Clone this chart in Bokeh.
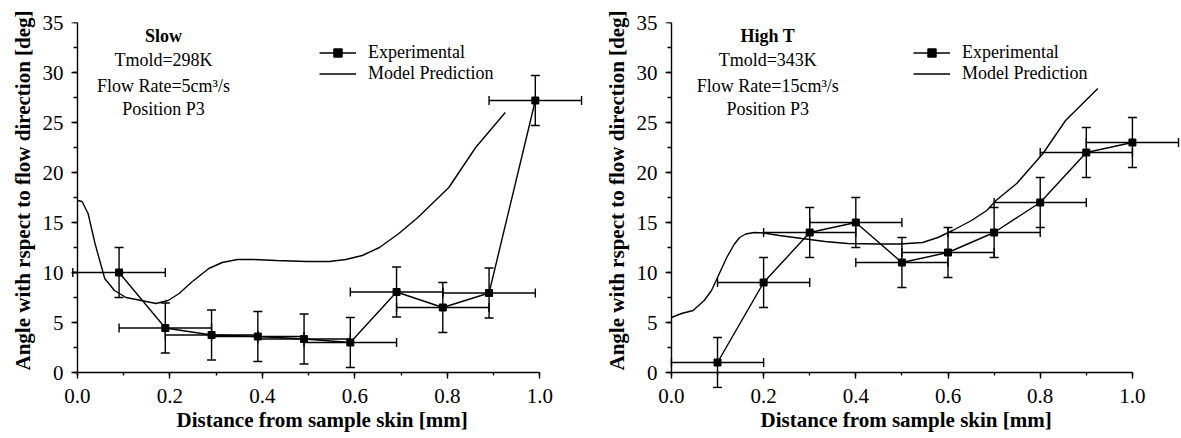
from bokeh.plotting import figure
from bokeh.models import (ColumnDataSource, Whisker, TeeHead, Label, Legend, LegendItem,
                          Range1d, SingleIntervalTicker, NumeralTickFormatter, LinearAxis, Title)
from bokeh.layouts import row
from bokeh.embed import file_html
from bokeh.resources import INLINE

FONT = "Liberation Serif"

# ---------------- data: left panel ("Slow") ----------------
slow_x = [0.09, 0.19, 0.29, 0.39, 0.49, 0.59, 0.69, 0.79, 0.89, 0.99]
slow_y = [10.0, 4.45, 3.75, 3.6, 3.35, 3.0, 8.05, 6.5, 7.95, 27.2]
slow_xerr = [0.1, 0.1, 0.1, 0.1, 0.1, 0.1, 0.1, 0.1, 0.1, 0.1]
slow_yerr = [2.5, 2.5, 2.5, 2.5, 2.5, 2.5, 2.5, 2.5, 2.5, 2.5]
slow_model_x = [0.0, 0.01, 0.023, 0.038, 0.059, 0.08, 0.105, 0.138, 0.17, 0.196, 0.22,
                0.246, 0.284, 0.313, 0.346, 0.38, 0.43, 0.495, 0.545, 0.58, 0.616, 0.653,
                0.695, 0.736, 0.774, 0.803, 0.861, 0.925]
slow_model_y = [17.2, 17.1, 15.9, 12.9, 9.4, 8.2, 7.5, 7.2, 6.9, 7.2, 7.9,
                9.0, 10.4, 11.0, 11.3, 11.3, 11.2, 11.1, 11.1, 11.3, 11.7, 12.5,
                13.9, 15.5, 17.2, 18.5, 22.5, 26.0]
slow_notes = ["Slow", "Tmold=298K", "Flow Rate=5cm³/s", "Position P3"]

# ---------------- data: right panel ("High T") ----------------
hot_x = [0.1, 0.2, 0.3, 0.4, 0.5, 0.6, 0.7, 0.8, 0.9, 1.0]
hot_y = [1.0, 9.0, 14.0, 15.0, 11.0, 12.0, 14.0, 17.0, 22.0, 23.0]
hot_xerr = [0.1, 0.1, 0.1, 0.1, 0.1, 0.1, 0.1, 0.1, 0.1, 0.1]
hot_yerr = [2.5, 2.5, 2.5, 2.5, 2.5, 2.5, 2.5, 2.5, 2.5, 2.5]
hot_model_x = [0.0, 0.022, 0.047, 0.071, 0.087, 0.104, 0.12, 0.136, 0.148, 0.161, 0.18,
               0.2, 0.234, 0.283, 0.333, 0.382, 0.447, 0.496, 0.545, 0.578, 0.61, 0.651,
               0.684, 0.704, 0.749, 0.806, 0.855, 0.925]
hot_model_y = [5.5, 5.9, 6.2, 7.2, 8.2, 9.9, 11.5, 12.8, 13.5, 13.85, 14.0,
               13.95, 13.7, 13.4, 13.1, 12.9, 12.85, 12.85, 13.0, 13.5, 14.2, 15.2,
               16.2, 17.2, 18.9, 21.9, 25.2, 28.4]
hot_notes = ["High T", "Tmold=343K", "Flow Rate=15cm³/s", "Position P3"]

x_label = "Distance from sample skin [mm]"
y_label = "Angle with rspect to flow direction [deg]"
legend_labels = ["Experimental", "Model Prediction"]
note_y = [33.7, 31.3, 28.7, 26.4]

X0, Y0 = -0.015, -1.6
PX_PER_DEG = 10.0
LW = 1.4


def make_panel(width, axis_px, scale, ex, ey, exerr, eyerr, mx, my, notes, note_x,
               xtitle_offset):
    border_left = int(round(axis_px + X0 * scale))
    x_end = X0 + (width - border_left) / scale
    p = figure(width=width, height=438, x_range=Range1d(X0, x_end), y_range=Range1d(Y0, 35),
               output_backend="svg", toolbar_location=None,
               min_border_left=border_left, min_border_right=0,
               min_border_top=22, min_border_bottom=50)
    p.outline_line_color = None
    p.grid.visible = False
    p.background_fill_color = "white"
    p.border_fill_color = "white"

    src = ColumnDataSource(dict(
        x=ex, y=ey,
        xl=[a - b for a, b in zip(ex, exerr)], xu=[a + b for a, b in zip(ex, exerr)],
        yl=[a - b for a, b in zip(ey, eyerr)], yu=[a + b for a, b in zip(ey, eyerr)]))

    for dim, base, lo, hi in (("height", "x", "yl", "yu"), ("width", "y", "xl", "xu")):
        w = Whisker(source=src, base=base, lower=lo, upper=hi, dimension=dim,
                    line_color="black", line_width=LW,
                    lower_head=TeeHead(size=9, line_color="black", line_width=LW),
                    upper_head=TeeHead(size=9, line_color="black", line_width=LW))
        p.add_layout(w)

    l_exp = p.line("x", "y", source=src, line_color="black", line_width=LW)
    s_exp = p.scatter("x", "y", source=src, marker="square", size=7,
                      fill_color="black", line_color="black")
    l_mod = p.line(mx, my, line_color="black", line_width=LW)

    legend = Legend(items=[LegendItem(label=legend_labels[0], renderers=[l_exp, s_exp]),
                           LegendItem(label=legend_labels[1], renderers=[l_mod])],
                    location=(242 - X0 * scale, 288 - Y0 * PX_PER_DEG))
    legend.border_line_color = None
    legend.background_fill_alpha = 0
    legend.padding = 0
    legend.margin = 0
    legend.spacing = 0
    legend.glyph_width = 37
    legend.glyph_height = 21
    legend.label_height = 21
    legend.label_standoff = 12
    legend.label_text_font = FONT
    legend.label_text_font_size = "18px"
    legend.label_text_color = "black"
    p.add_layout(legend)

    for i, t in enumerate(notes):
        p.add_layout(Label(x=note_x, y=note_y[i], text=t, text_font=FONT,
                           text_font_size="18px",
                           text_font_style="bold" if i == 0 else "normal",
                           text_align="center", text_baseline="middle",
                           text_color="black"))

    xticker = SingleIntervalTicker(interval=0.2, num_minor_ticks=2)
    yticker = SingleIntervalTicker(interval=5, num_minor_ticks=2)

    # label axes at the frame edges (tick labels only)
    xa = p.xaxis[0]
    ya = p.yaxis[0]
    xa.ticker = xticker
    xa.formatter = NumeralTickFormatter(format="0.0")
    xa.bounds = (0, 1)
    ya.ticker = yticker
    ya.bounds = (0, 35)
    for ax in (xa, ya):
        ax.major_label_text_font = FONT
        ax.major_label_text_font_size = "21px"
        ax.major_label_text_color = "black"
        ax.axis_line_color = None
        ax.major_tick_line_color = None
        ax.minor_tick_line_color = None
        ax.major_tick_in = 0
        ax.major_tick_out = 0
        ax.minor_tick_in = 0
        ax.minor_tick_out = 0
    xa.major_label_standoff = 0
    ya.major_label_standoff = 7

    # axis lines + ticks crossing at the data origin
    for side, tk, b in (("below", xticker, (0, 1)), ("left", yticker, (0, 35))):
        ax = LinearAxis(ticker=tk, bounds=b, fixed_location=0)
        ax.axis_line_color = "black"
        ax.axis_line_width = LW
        ax.major_tick_line_color = "black"
        ax.minor_tick_line_color = "black"
        ax.major_tick_line_width = LW
        ax.minor_tick_line_width = LW
        ax.major_tick_in = 0
        ax.minor_tick_in = 0
        ax.major_tick_out = 6
        ax.minor_tick_out = 3 if side == "below" else 4
        ax.major_label_text_color = None
        ax.major_label_text_font_size = "1px"
        p.add_layout(ax, side)

    p.add_layout(Title(text=x_label, align="left", offset=xtitle_offset, standoff=4,
                       vertical_align="top",
                       text_font=FONT, text_font_size="21px", text_font_style="bold",
                       text_color="black"), "below")
    p.add_layout(Title(text=y_label, align="left", offset=18, standoff=10,
                       text_font=FONT, text_font_size="21px", text_font_style="bold",
                       text_color="black"), "left")
    return p


p1 = make_panel(594, 77, 462.5, slow_x, slow_y, slow_xerr, slow_yerr,
                slow_model_x, slow_model_y, slow_notes, 0.186, 106)
p2 = make_panel(587, 77, 461.0, hot_x, hot_y, hot_xerr, hot_yerr,
                hot_model_x, hot_model_y, hot_notes, 0.209, 96)

layout = row(p1, p2)
open("out.html", "w").write(file_html(layout, INLINE))
